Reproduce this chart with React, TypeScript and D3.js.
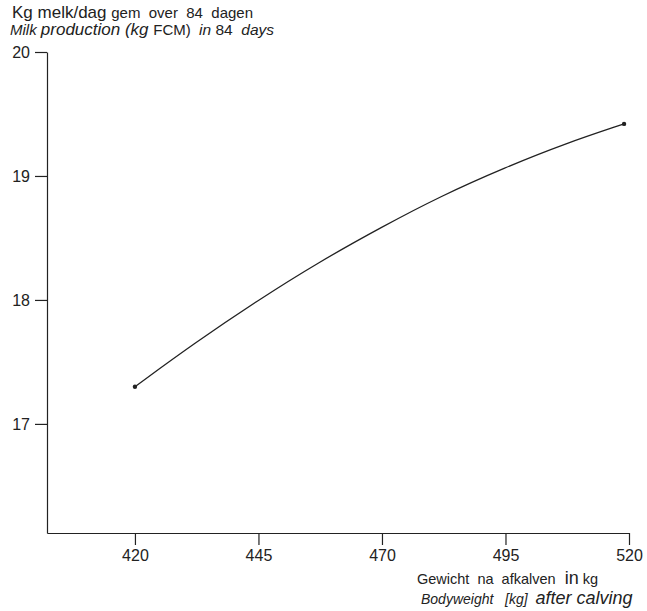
import React, { useEffect, useRef } from 'react';
import * as d3 from 'd3';

// bodyweight after calving (kg) and milk production (kg FCM/day)
const weights = [420, 432, 445, 457, 470, 482, 495, 507, 519];
const milk = [17.30, 17.65, 18.0, 18.30, 18.59, 18.84, 19.07, 19.26, 19.42];
const xTicks = [420, 445, 470, 495, 520];
const yTicks = [17, 18, 19, 20];

const width = 647;
const height = 611;
const font = '"Liberation Sans", Arial, Helvetica, sans-serif';
const ink = '#222';

export default function App() {
  const ref = useRef<SVGSVGElement>(null);

  useEffect(() => {
    const svg = d3.select(ref.current);
    svg.selectAll('*').remove();

    const x = d3.scaleLinear().domain([402.2, 520]).range([47, 629]);
    const y = d3.scaleLinear().domain([16.12, 20]).range([533, 52]);

    const yAxis = d3.axisLeft(y).tickValues(yTicks).tickSize(12).tickSizeOuter(0).tickPadding(5)
      .tickFormat(d3.format('d'));
    const xAxis = d3.axisBottom(x).tickValues(xTicks).tickSize(12).tickSizeOuter(0).tickPadding(5)
      .tickFormat(d3.format('d'));

    const gy = svg.append('g').attr('transform', 'translate(47,0)').call(yAxis);
    const gx = svg.append('g').attr('transform', 'translate(0,533)').call(xAxis);

    [gx, gy].forEach(g => {
      g.selectAll('path, line').attr('stroke', ink).attr('stroke-width', 1.2);
      g.selectAll('text').attr('fill', ink).style('font-family', font).style('font-size', '16px');
    });

    const pts = weights.map((w, i) => [w, milk[i]] as [number, number]);

    const line = d3.line<[number, number]>()
      .x(d => x(d[0]))
      .y(d => y(d[1]))
      .curve(d3.curveBasis);

    svg.append('path')
      .datum(pts)
      .attr('d', line)
      .attr('fill', 'none')
      .attr('stroke', ink)
      .attr('stroke-width', 1.3);

    svg.selectAll('.dot')
      .data([pts[0], pts[pts.length - 1]])
      .enter()
      .append('circle')
      .attr('class', 'dot')
      .attr('r', 2.2)
      .attr('cx', d => x(d[0]))
      .attr('cy', d => y(d[1]))
      .attr('fill', ink);

    const label = (xp: number, yp: number) => svg.append('text')
      .attr('x', xp).attr('y', yp).attr('fill', ink)
      .style('font-family', font).style('white-space', 'pre');

    // titles
    const t1 = label(12, 18);
    t1.append('tspan').style('font-size', '17px').text('Kg melk/dag ');
    t1.append('tspan').style('font-size', '15px').text('gem  over  84  dagen');

    const t2 = label(10, 35);
    t2.append('tspan').style('font-size', '15px').style('font-style', 'italic').text('Milk ');
    t2.append('tspan').style('font-size', '17px').style('font-style', 'italic').text('production (kg ');
    t2.append('tspan').style('font-size', '15px').text('FCM)  ');
    t2.append('tspan').style('font-size', '15.5px').style('font-style', 'italic').text('in ');
    t2.append('tspan').style('font-size', '15.5px').text('84  ');
    t2.append('tspan').style('font-size', '15.5px').style('font-style', 'italic').text('days');

    const b1 = label(417, 584);
    b1.append('tspan').style('font-size', '14.5px').text('Gewicht  na  afkalven ');
    b1.append('tspan').style('font-size', '18px').text(' in');
    b1.append('tspan').style('font-size', '14.5px').text(' kg');

    const b2 = label(421, 604).style('font-style', 'italic');
    b2.append('tspan').style('font-size', '14px').text('Bodyweight   [kg]  ');
    b2.append('tspan').style('font-size', '18px').text('after calving');
  }, []);

  return (
    <svg ref={ref} width={width} height={height}
      style={{ position: 'absolute', left: 0, top: 0, background: '#fff' }} />
  );
}
